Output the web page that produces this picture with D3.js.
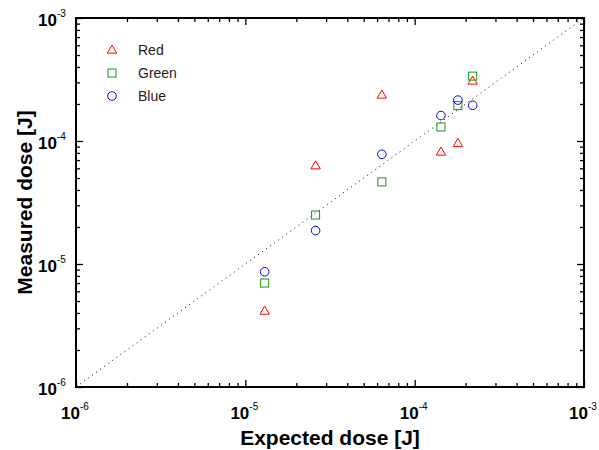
<!DOCTYPE html>
<html>
<head>
<meta charset="utf-8">
<script src="https://cdn.jsdelivr.net/npm/d3@7"></script>
<style>
body { margin: 0; background: #fff; }
text { font-family: Arial, "Liberation Sans", sans-serif; }
</style>
</head>
<body>
<script>
// data
var expected = [1.3e-5, 2.6e-5, 6.4e-5, 1.43e-4, 1.8e-4, 2.2e-4];
var redDose = [4.15e-6, 6.3e-5, 2.37e-4, 8.15e-5, 9.6e-5, 3.08e-4];
var greenDose = [7.0e-6, 2.5e-5, 4.65e-5, 1.3e-4, 1.94e-4, 3.37e-4];
var blueDose = [8.65e-6, 1.87e-5, 7.8e-5, 1.61e-4, 2.15e-4, 1.95e-4];
var seriesNames = ["Red", "Green", "Blue"];
var decades = [1e-6, 1e-5, 1e-4, 1e-3];
var decadeExp = ["-6", "-5", "-4", "-3"];

var width = 599, height = 450;
var margin = {top: 18, right: 15, bottom: 63, left: 76};
var innerWidth = width - margin.left - margin.right;
var innerHeight = height - margin.top - margin.bottom;

var svg = d3.select("body").append("svg")
    .attr("width", width)
    .attr("height", height);
var g = svg.append("g")
    .attr("transform", "translate(" + margin.left + "," + margin.top + ")");

var x = d3.scaleLog().domain([1e-6, 1e-3]).range([0, innerWidth]);
var y = d3.scaleLog().domain([1e-6, 1e-3]).range([innerHeight, 0]);

// minor + major tick values
var tickVals = [];
for (var e = -6; e < -3; e++) {
    for (var m = 1; m < 10; m++) tickVals.push(m * Math.pow(10, e));
}
tickVals.push(1e-3);
var isMajor = d => decades.some(v => Math.abs(v - d) / d < 1e-6);
var tickLen = d => isMajor(d) ? -7 : -4;

function styleAxis(sel) {
    sel.select(".domain").remove();
    sel.selectAll(".tick line").attr("stroke", "#000").attr("stroke-width", 1.3);
    sel.selectAll(".tick text").remove();
}

[["b", d3.axisBottom(x), "translate(0," + innerHeight + ")"],
 ["t", d3.axisTop(x), "translate(0,0)"],
 ["l", d3.axisLeft(y), "translate(0,0)"],
 ["r", d3.axisRight(y), "translate(" + innerWidth + ",0)"]].forEach(function(a) {
    var ax = g.append("g").attr("transform", a[2]).call(a[1].tickValues(tickVals).tickSize(0));
    ax.selectAll(".tick line").each(function(d) {
        var l = tickLen(d);
        var s = d3.select(this);
        if (a[0] == "b") s.attr("y2", l);
        if (a[0] == "t") s.attr("y2", -l);
        if (a[0] == "l") s.attr("x2", -l);
        if (a[0] == "r") s.attr("x2", l);
    });
    styleAxis(ax);
});

// frame
g.append("rect")
    .attr("width", innerWidth).attr("height", innerHeight)
    .attr("fill", "none").attr("stroke", "#000").attr("stroke-width", 2);

// tick labels: "10" plus a separate superscript
decades.forEach(function(d, i) {
    // x axis
    g.append("text")
        .attr("x", x(d) + 4).attr("y", innerHeight + 32)
        .attr("text-anchor", "end")
        .attr("font-size", 17).attr("font-weight", "bold")
        .text("10");
    g.append("text")
        .attr("x", x(d) + 4).attr("y", innerHeight + 23)
        .attr("font-size", 10)
        .text(decadeExp[i]);

    // y axis
    g.append("text")
        .attr("x", -19).attr("y", y(d) + 7.5)
        .attr("text-anchor", "end")
        .attr("font-size", 17).attr("font-weight", "bold")
        .text("10");
    g.append("text")
        .attr("x", -19).attr("y", y(d) - 1.5)
        .attr("font-size", 10)
        .text(decadeExp[i]);
});

// axis titles
g.append("text")
    .attr("x", innerWidth / 2).attr("y", innerHeight + 58)
    .attr("text-anchor", "middle")
    .attr("font-size", 21).attr("font-weight", "bold")
    .text("Expected dose [J]");
g.append("text")
    .attr("transform", "rotate(-90)")
    .attr("x", -innerHeight / 2).attr("y", -44)
    .attr("text-anchor", "middle")
    .attr("font-size", 21).attr("font-weight", "bold")
    .text("Measured dose [J]");

// y = x reference line
g.append("line")
    .attr("x1", x(1e-6)).attr("y1", y(1e-6))
    .attr("x2", x(1e-3)).attr("y2", y(1e-3))
    .attr("stroke", "#000").attr("stroke-width", 1)
    .attr("stroke-dasharray", "1,4");

// markers
var tri = d3.symbol().type(d3.symbolTriangle).size(38);
var colors = {Red: "#ff0000", Green: "#119911", Blue: "#0000ff"};

function drawMarker(sel, name) {
    if (name == "Red") {
        sel.append("path").attr("d", tri).attr("transform", "translate(0,0.5)")
            .attr("fill", "none").attr("stroke", colors.Red);
    } else if (name == "Green") {
        sel.append("rect").attr("x", -4).attr("y", -4).attr("width", 8).attr("height", 8)
            .attr("fill", "none").attr("stroke", colors.Green);
    } else {
        sel.append("circle").attr("r", 4.3)
            .attr("fill", "none").attr("stroke", colors.Blue);
    }
}

[["Red", redDose], ["Green", greenDose], ["Blue", blueDose]].forEach(function(s) {
    g.selectAll(".pt-" + s[0])
        .data(expected.map((e, i) => ({x: e, y: s[1][i]})))
        .enter().append("g")
        .attr("transform", d => "translate(" + x(d.x) + "," + y(d.y) + ")")
        .each(function() { drawMarker(d3.select(this), s[0]); });
});

// legend
seriesNames.forEach(function(name, i) {
    var lg = g.append("g").attr("transform", "translate(36," + (32 + i * 23) + ")");
    drawMarker(lg, name);
    lg.append("text").attr("x", 26).attr("y", 5)
        .attr("font-size", 14).attr("fill", "#222").text(name);
});
</script>
</body>
</html>
